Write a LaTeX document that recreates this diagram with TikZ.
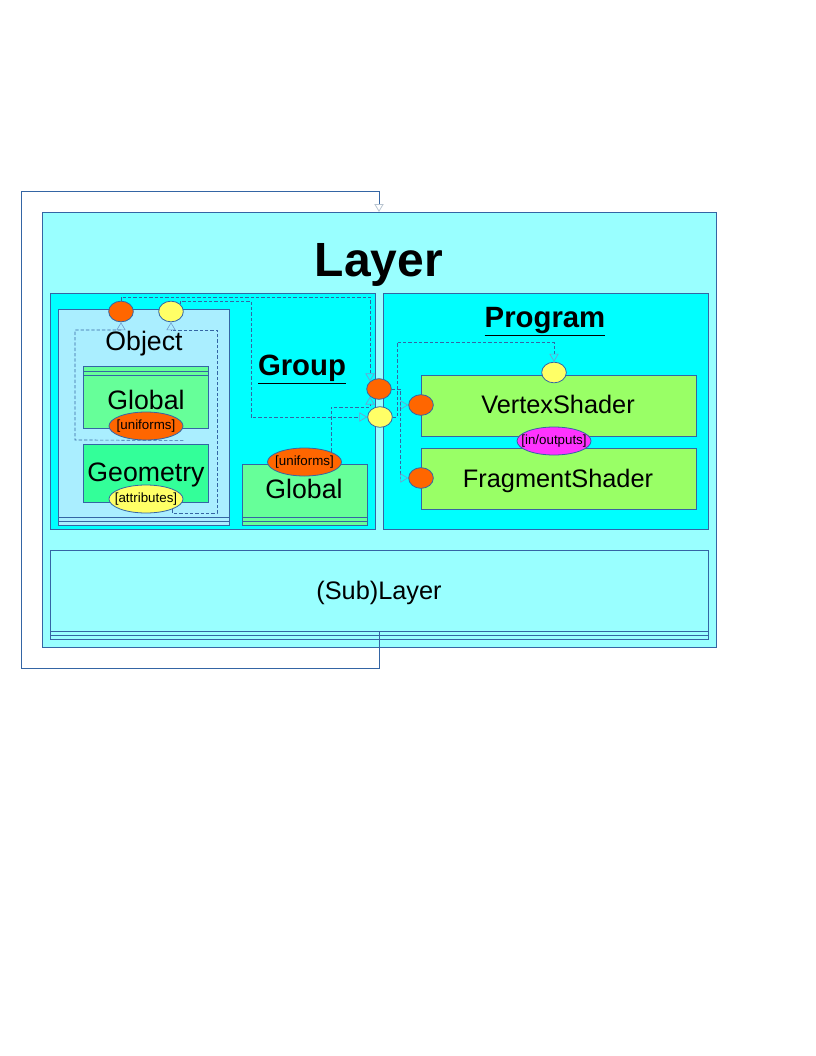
\documentclass[tikz,border=0pt]{standalone}
\usepackage{fontspec}
\setmainfont{Liberation Sans}
\usepackage{tikz}
\usetikzlibrary{arrows.meta,shapes.geometric}
\definecolor{lineblue}{HTML}{3465A4}
\definecolor{tipblue}{HTML}{729FCF}
\definecolor{tipgray}{HTML}{B8C4D0}
\definecolor{layercyan}{HTML}{99FFFF}
\definecolor{groupcyan}{HTML}{00FFFF}
\definecolor{objectcyan}{HTML}{AAEEFF}
\definecolor{globalgreen}{HTML}{66FF99}
\definecolor{geomgreen}{HTML}{33FF99}
\definecolor{shadergreen}{HTML}{99FF66}
\definecolor{portorange}{HTML}{FF6600}
\definecolor{portyellow}{HTML}{FFFF66}
\definecolor{iomagenta}{HTML}{FF33FF}
\newcommand{\fs}[1]{\fontsize{#1}{#1}\selectfont}

\begin{document}
\begin{tikzpicture}[x=0.75pt, y=-0.75pt,
    box/.style={draw=lineblue, line width=0.6pt},
    port/.style={ellipse, draw=lineblue, line width=0.6pt, inner sep=0pt, minimum width=18.5pt, minimum height=15.5pt},
    tag/.style={ellipse, draw=lineblue, line width=0.6pt, inner sep=0pt, minimum width=55.5pt, minimum height=21pt, font=\fs{10}},
    flow/.style={draw=lineblue, line width=0.5pt, dash pattern=on 2.5pt off 1.5pt, -{Triangle[open, length=6pt, width=7pt, color=tipblue]}},
    loopline/.style={draw=lineblue, line width=0.6pt, -{Triangle[open, length=6pt, width=7pt, color=tipgray]}},
    txt/.style={anchor=base, inner sep=0pt}]
    \useasboundingbox (0,0) rectangle (816,1056);
    \draw[box, fill=layercyan] (42,212) rectangle (716,647);
    \draw[box, fill=groupcyan] (50,293) rectangle (375,529);
    \draw[box, fill=groupcyan] (383,293) rectangle (708,529);
    \draw[box, fill=objectcyan] (58,309) rectangle (229,525);
    \draw[box] (58,517) -- (229,517) (58,521) -- (229,521);
    \draw[box, fill=globalgreen] (83,366) rectangle (208,428);
    \draw[box] (83,371) -- (208,371) (83,375) -- (208,375);
    \draw[box, fill=geomgreen] (83,444) rectangle (208,502);
    \draw[box, fill=globalgreen] (242,464) rectangle (367,525);
    \draw[box] (242,517) -- (367,517) (242,521) -- (367,521);
    \draw[box, fill=shadergreen] (421,375) rectangle (696,436);
    \draw[box, fill=shadergreen] (421,448) rectangle (696,509);
    \draw[box, fill=layercyan] (50,550) rectangle (708,639);
    \draw[box] (50,631) -- (708,631) (50,635) -- (708,635);
    \node[txt, font=\fs{36}\bfseries] (layerT) at (379,276) {Layer};
    \node[txt, font=\fs{22}\bfseries] (groupT) at (302,375) {\underline{Group}};
    \node[txt, font=\fs{22}\bfseries] (progT) at (545,327) {\underline{Program}};
    \node[txt, font=\fs{20}] (objT) at (144,350) {Object};
    \node[txt, font=\fs{20}] (oglobT) at (146,409) {Global};
    \node[txt, font=\fs{20}] (geomT) at (146,481) {Geometry};
    \node[txt, font=\fs{20}] (gglobT) at (304,498) {Global};
    \node[txt, font=\fs{19}] (vsT) at (558,413) {VertexShader};
    \node[txt, font=\fs{19}] (fsT) at (558,487) {FragmentShader};
    \node[txt, font=\fs{19}] (subT) at (379,599) {(Sub)Layer};
    \node[tag, fill=portorange] (objUni) at (146,426) {\makebox[0pt]{[uniforms]}};
    \node[tag, fill=portyellow] (objAttr) at (146,499) {\makebox[0pt]{[attributes]}};
    \node[tag, fill=portorange] (grpUni) at (304.5,462) {\makebox[0pt]{[uniforms]}};
    \node[tag, fill=iomagenta] (io) at (554,441) {\makebox[0pt]{[in/outputs]}};
    \node[port, fill=portorange] (objU) at (121,311.5) {};
    \node[port, fill=portyellow] (objA) at (171,311.5) {};
    \node[port, fill=portorange] (grpU) at (379,389) {};
    \node[port, fill=portyellow] (grpA) at (380,417) {};
    \node[port, fill=portorange] (vsU) at (421,405) {};
    \node[port, fill=portyellow] (vsA) at (554,372.5) {};
    \node[port, fill=portorange] (fsU) at (421,478) {};
    % dashed links
    \draw[flow] (objUni.east |- objUni.south) -- (75,440) |- (objU.south |- 0,330) -- (objU.south);
    \draw[flow] (objAttr.south east) |- (217,513) |- (objA.south |- 0,330) -- (objA.south);
    \draw[flow] (objU.north) |- (grpU.north west |- 0,297) -- (grpU.north west);
    \draw[flow] (objA.north east) |- (251,301) |- (grpA.west);
    \draw[flow] (grpUni.north east) |- (grpU.south west |- 0,407) -- (grpU.south west);
    \draw[flow] (grpU.east) -| (400,405) -- (vsU.west);
    \draw[flow] (grpU.east) -| (400,478) -- (fsU.west);
    \draw[flow] (grpA.east) -| (397,342) -| (vsA.north);
    % sublayer loops back into layer
    \coordinate (subout) at (379,631);
    \coordinate (layerin) at (379,212);
    \draw[loopline] (subout) -- (379,668) -| (21,191) -| (layerin);
\end{tikzpicture}
\end{document}
